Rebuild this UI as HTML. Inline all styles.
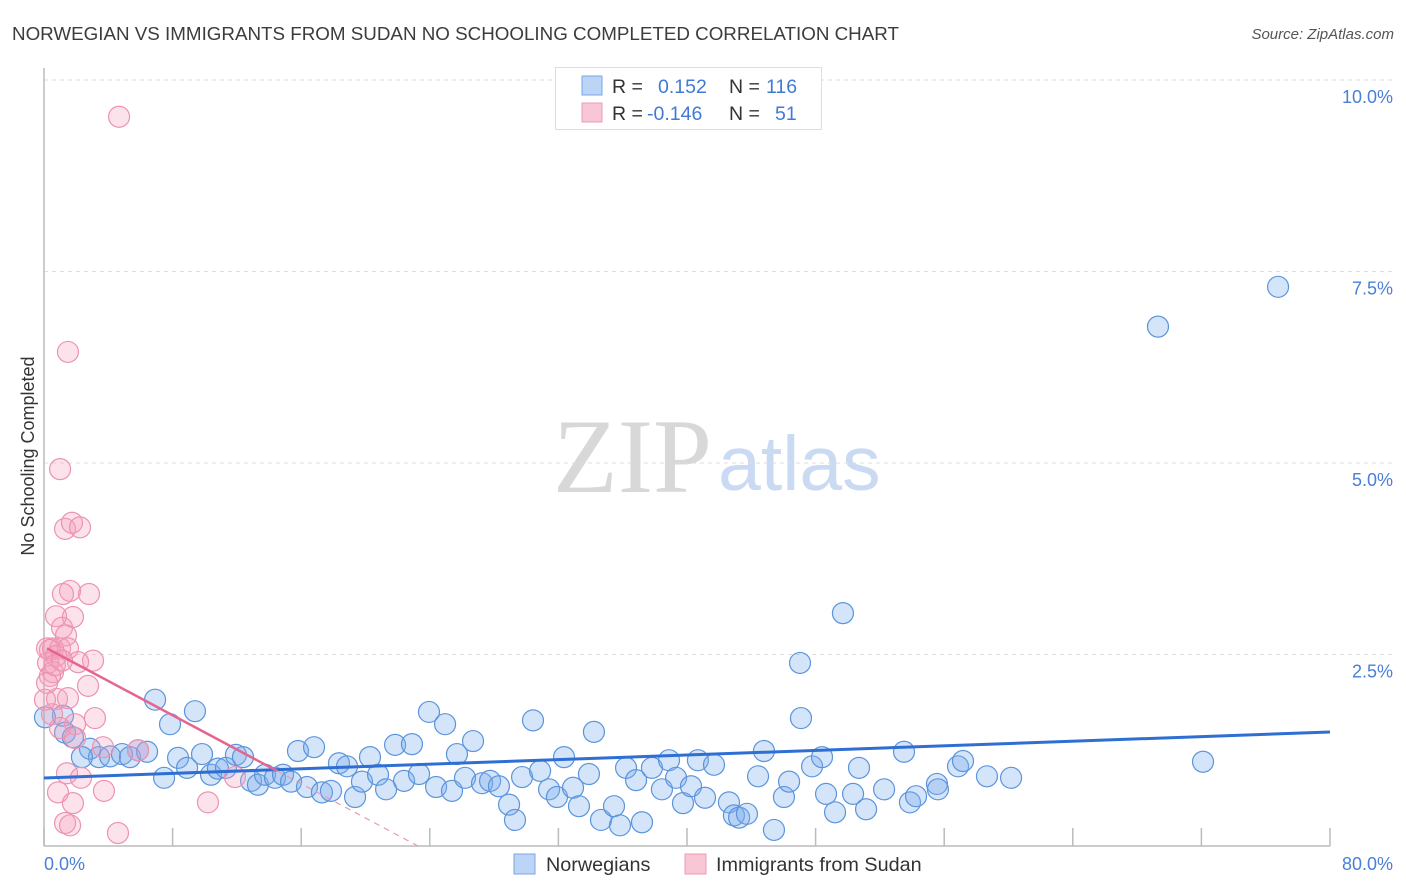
<!DOCTYPE html>
<html><head><meta charset="utf-8"><style>
body{margin:0;background:#fff;font-family:"Liberation Sans",sans-serif}
svg{display:block}
</style></head><body>
<svg width="1406" height="892" viewBox="0 0 1406 892">
<text x="12" y="40" font-size="18.8" fill="#3c3c3c">NORWEGIAN VS IMMIGRANTS FROM SUDAN NO SCHOOLING COMPLETED CORRELATION CHART</text>
<text x="1394" y="39" font-size="15" fill="#555" font-style="italic" text-anchor="end">Source: ZipAtlas.com</text>
<g>
<text x="553" y="492" font-family="Liberation Serif" font-size="106" fill="#d8d8d8">ZIP</text>
<text x="718" y="490" font-size="77" fill="#c9daf2">atlas</text>
</g>
<g id="grid"></g>
<g id="axes"></g>
<g id="marks"></g>
<g id="trend"></g>
<text transform="translate(34,456) rotate(-90)" font-size="18" fill="#333" text-anchor="middle">No Schooling Completed</text>
<text x="44" y="870" font-size="18" fill="#4a7fd6">0.0%</text>
<text x="1393" y="870" font-size="18" fill="#4a7fd6" text-anchor="end">80.0%</text>
<g>
<rect x="555.5" y="67.5" width="266" height="62" fill="#fff" stroke="#ddd"/>
<rect x="582" y="76" width="20" height="19" fill="#bcd4f6" stroke="#7aa6e4"/>
<rect x="582" y="103" width="20" height="19" fill="#f9c6d6" stroke="#eb9ab5"/>
<text x="612" y="93" font-size="19.5" fill="#333">R = <tspan x="658" fill="#3f7ad6">0.152</tspan><tspan x="729">N = </tspan><tspan x="766" fill="#3f7ad6">116</tspan></text>
<text x="612" y="120" font-size="19.5" fill="#333">R = <tspan x="647" fill="#3f7ad6">-0.146</tspan><tspan x="729">N = </tspan><tspan x="775" fill="#3f7ad6">51</tspan></text>
</g>
<g>
<rect x="514" y="854" width="21" height="20" fill="#bcd4f6" stroke="#7aa6e4"/>
<text x="546" y="871" font-size="19.8" fill="#333">Norwegians</text>
<rect x="685" y="854" width="21" height="20" fill="#f9c6d6" stroke="#eb9ab5"/>
<text x="716" y="871" font-size="19.8" fill="#333">Immigrants from Sudan</text>
</g>
</svg>
<script>
const yTicks=[2.5,5,7.5,10];
const yTickLabels=["2.5%","5.0%","7.5%","10.0%"];
const xTicks=[0,8,16,24,32,40,48,56,64,72,80];
const blueX=[76.77,69.30,49.70,47.03,47.09,6.91,9.39,7.84,1.18,1.31,1.80,2.86,3.42,4.11,4.85,5.35,5.85,6.41,2.36,7.47,8.34,8.90,9.83,10.39,10.82,11.32,11.94,12.38,12.88,13.31,13.75,14.37,14.87,15.37,15.80,16.36,16.80,17.29,17.85,18.35,18.85,19.35,19.78,20.28,20.78,21.28,21.84,22.40,22.89,23.33,23.95,24.39,24.95,25.38,25.69,26.19,26.69,27.25,27.75,28.30,28.93,29.30,29.74,30.42,30.86,31.42,31.91,32.35,32.91,33.28,33.90,34.21,34.65,35.46,35.83,36.21,36.83,37.20,37.82,38.44,38.88,39.32,39.75,40.25,40.68,41.12,41.68,42.61,42.92,43.24,43.73,44.42,44.79,45.41,46.03,46.35,47.78,48.40,48.65,49.21,50.33,50.70,51.14,52.26,53.50,53.87,54.25,55.55,55.61,56.86,57.17,58.66,60.16,72.10,0.06];
const blueY=[7.30,6.78,3.04,2.39,1.67,1.91,1.76,1.59,1.70,1.48,1.42,1.27,1.16,1.17,1.20,1.16,1.25,1.23,1.16,0.89,1.15,1.02,1.20,0.93,1.01,1.02,1.19,1.16,0.85,0.80,0.93,0.89,0.93,0.84,1.24,0.77,1.29,0.70,0.72,1.08,1.04,0.64,0.84,1.16,0.93,0.74,1.32,0.85,1.33,0.94,1.75,0.77,1.59,0.72,1.20,0.89,1.37,0.82,0.85,0.78,0.54,0.34,0.90,1.64,0.98,0.74,0.64,1.16,0.76,0.52,0.94,1.49,0.34,0.52,0.27,1.02,0.86,0.31,1.02,0.74,1.12,0.89,0.56,0.78,1.12,0.63,1.06,0.57,0.40,0.37,0.42,0.91,1.24,0.21,0.64,0.84,1.04,1.16,0.68,0.44,0.68,1.02,0.48,0.74,1.23,0.57,0.65,0.81,0.74,1.04,1.11,0.91,0.89,1.10,1.68];
const pinkX=[4.67,1.49,1.00,1.31,1.74,2.24,1.62,1.18,2.80,0.75,1.80,1.12,1.37,0.19,0.56,1.00,1.49,0.37,0.75,3.05,0.25,2.12,0.56,0.37,0.19,0.81,1.49,2.74,0.50,3.17,1.93,1.00,1.93,3.67,1.43,2.30,0.87,3.73,10.20,1.80,1.31,1.62,4.60,11.88,0.06,0.68,1.12,5.85];
const pinkY=[9.52,6.45,4.92,4.14,4.22,4.16,3.33,3.29,3.29,3.00,2.99,2.85,2.75,2.58,2.58,2.58,2.58,2.56,2.48,2.42,2.39,2.40,2.27,2.22,2.13,1.92,1.93,2.09,1.72,1.67,1.59,1.54,1.41,1.29,0.95,0.89,0.70,0.72,0.57,0.56,0.30,0.27,0.17,0.90,1.91,2.36,2.42,1.25];
const blueTrend=[0.888,1.488];
const pinkTrend=[2.58,0.98];
const pinkTrendEnd=[14.5,23.5];

const NS="http://www.w3.org/2000/svg";
const X=v=>44+v/80*1286;
const Y=v=>846-v*76.6;
function mk(tag,parent,attrs){const e=document.createElementNS(NS,tag);for(const k in attrs)e.setAttribute(k,attrs[k]);parent.appendChild(e);return e;}
const grid=document.getElementById('grid'),axes=document.getElementById('axes'),marks=document.getElementById('marks'),trend=document.getElementById('trend');
yTicks.forEach((t,i)=>{
 const l=mk('line',grid,{x1:44,x2:1393,y1:Y(t),y2:Y(t),stroke:'#ddd','stroke-dasharray':'4,4'});
 
 
 const tx=mk('text',grid,{x:1393,y:Y(t)+23,'font-size':18,fill:'#4a7fd6','text-anchor':'end'});
 tx.textContent=yTickLabels[i];
 
 
});
mk('line',axes,{x1:44,x2:44,y1:68,y2:846,stroke:'#bbb','stroke-width':1.5});
mk('line',axes,{x1:44,x2:1330,y1:846,y2:846,stroke:'#bbb','stroke-width':1.5});
xTicks.forEach(t=>{
 const l=mk('line',axes,{x1:X(t),x2:X(t),y1:828,y2:846,stroke:'#bbb','stroke-width':1.5});
 
 
});
blueX.forEach((v,i)=>{
 const c=mk('circle',marks,{cx:X(v),cy:Y(blueY[i]),r:10.5,fill:'rgba(120,170,235,0.32)',stroke:'#5b94dc','stroke-width':1.2});
 
 
});
pinkX.forEach((v,i)=>{
 const c=mk('circle',marks,{cx:X(v),cy:Y(pinkY[i]),r:10.5,fill:'rgba(245,160,190,0.3)',stroke:'#ec93b1','stroke-width':1.2});
 
 
});
const bt=mk('line',trend,{x1:X(0),y1:Y(blueTrend[0]),x2:X(80),y2:Y(blueTrend[1]),stroke:'#2f6fd4','stroke-width':3});


const slope=(pinkTrend[1]-pinkTrend[0])/(pinkTrendEnd[0]-0.19);
const pt=mk('line',trend,{x1:X(0.19),y1:Y(pinkTrend[0]),x2:X(pinkTrendEnd[0]),y2:Y(pinkTrend[1]),stroke:'#e56590','stroke-width':2.5});


const pd=mk('line',trend,{x1:X(pinkTrendEnd[0]),y1:Y(pinkTrend[1]),x2:X(pinkTrendEnd[1]),y2:Y(pinkTrend[1]+slope*(pinkTrendEnd[1]-pinkTrendEnd[0])),stroke:'#e99ab5','stroke-width':1.2,'stroke-dasharray':'6,5'});


</script>
</body></html>
